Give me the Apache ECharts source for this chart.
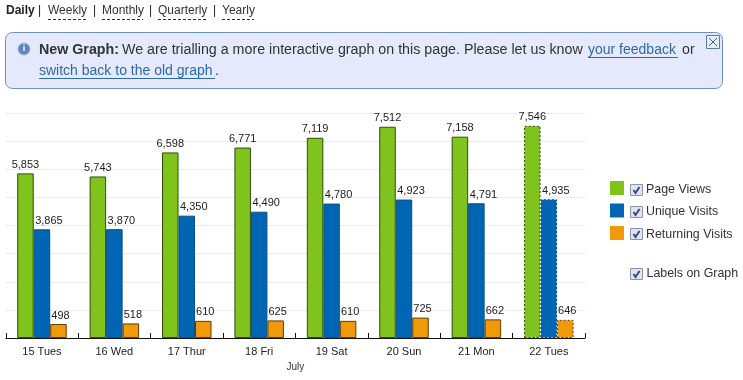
<!DOCTYPE html>
<html><head><meta charset="utf-8">
<style>html,body{margin:0;padding:0;background:#fff}#c{width:743px;height:380px}</style>
<script src="https://cdn.jsdelivr.net/npm/echarts@6/dist/echarts.min.js"></script>
</head><body><div id="c"></div>
<script>
const categories = ['15 Tues','16 Wed','17 Thur','18 Fri','19 Sat','20 Sun','21 Mon','22 Tues'];
const pageViews = [5853,5743,6598,6771,7119,7512,7158,7546];
const uniqueVisits = [3865,3870,4350,4490,4780,4923,4791,4935];
const returningVisits = [498,518,610,625,610,725,662,646];
const FONT = '"Liberation Sans", Arial, sans-serif';
const chart = echarts.init(document.getElementById('c'));
function mk(name, data, color, border, off){
  return {
    name, type:'bar', barWidth:16.5, barGap:'0%', barCategoryGap:'0%',
    data: data.map((v,i)=> i===data.length-1
      ? {value:v, itemStyle:{borderType:[2,2]}} : v),
    itemStyle:{color, borderColor:border, borderWidth:1},
    label:{show:true, position:'top', distance:3, offset:[off,0], color:'#222',
      fontFamily:FONT, fontSize:11, formatter:p=>p.value.toLocaleString('en-US')},
    emphasis:{disabled:true}, animation:false
  };
}
function t(x,y,text,o={}){return {type:'text',x,y,silent:true,style:Object.assign({text,fill:'#333',font:'12px '+FONT,textVerticalAlign:'middle'},o)};}
function line(x1,y1,x2,y2,stroke,dash){return {type:'line',silent:true,shape:{x1,y1,x2,y2},style:{stroke,lineWidth:1,lineDash:dash||null}};}
function checkbox(x,y){return {type:'group',x,y,silent:true,children:[
  {type:'rect',shape:{x:.5,y:.5,width:12,height:11},style:{fill:'#dfe4f0',stroke:'#8a94ad'}},
  {type:'polyline',shape:{points:[[3.5,6],[5.5,9],[9.5,3]]},style:{stroke:'#39497a',fill:null,lineWidth:2}}
]};}
const banner='14.25px '+FONT, link='#2f6aa8';
chart.setOption({
  animation:false,
  grid:{left:5.75,right:158,top:113,bottom:42,containLabel:false},
  legend:{show:true,left:610,top:181,padding:0,orient:'vertical',itemWidth:14,itemHeight:14,itemGap:8,
    icon:'rect',selectedMode:false,
    formatter:'{a|{name}}',
    textStyle:{rich:{a:{fontFamily:FONT,fontSize:12.4,color:'#333',padding:[3,0,0,17]}}},
    itemStyle:{borderWidth:0}},
  xAxis:{type:'category',data:categories,
    axisLine:{lineStyle:{color:'#111',width:1}},
    axisTick:{show:true,inside:true,length:5,lineStyle:{color:'#111'}},
    axisLabel:{color:'#222',fontFamily:FONT,fontSize:11,margin:8},
    name:'July',nameLocation:'middle',nameGap:24,
    nameTextStyle:{color:'#333',fontFamily:FONT,fontSize:10}},
  yAxis:{type:'value',min:0,max:8000,interval:1000,
    axisLine:{show:false},axisTick:{show:false},axisLabel:{show:false},
    splitLine:{lineStyle:{color:'#ebebeb'}}},
  series:[mk('Page Views',pageViews,'#7fc31c','#2d4d0a',0),
          mk('Unique Visits',uniqueVisits,'#0066b3','#0b4f84',7),
          mk('Returning Visits',returningVisits,'#f09a0a','#5e3d05',2)],
  graphic:[
    t(6,11,'Daily',{font:'bold 12px '+FONT,fill:'#222'}),
    t(38,11,'|',{fill:'#222'}),
    t(48,11,'Weekly'),line(48,19.5,87,19.5,'#333',[3,2]),
    t(93,11,'|',{fill:'#222'}),
    t(102,11,'Monthly'),line(102,19.5,143,19.5,'#333',[3,2]),
    t(149,11,'|',{fill:'#222'}),
    t(158,11,'Quarterly'),line(158,19.5,207,19.5,'#333',[3,2]),
    t(213,11,'|',{fill:'#222'}),
    t(222,11,'Yearly'),line(222,19.5,254,19.5,'#333',[3,2]),
    {type:'rect',silent:true,shape:{x:5.5,y:32.5,width:717,height:56,r:7},style:{fill:'#e4e9fb',stroke:'#6e90bd'}},
    {type:'circle',silent:true,shape:{cx:24,cy:49,r:6},style:{fill:'#5d86c0',stroke:'#9fb7d8'}},
    t(24,49,'i',{font:'bold 9px '+FONT,fill:'#fff',textAlign:'center'}),
    t(39,50,'New Graph:',{font:'bold 14.25px '+FONT,fill:'#333'}),
    t(122,50,'We are trialling a more interactive graph on this page. Please let us know',{font:banner,fill:'#333'}),
    t(588,50,'your feedback',{font:'14px '+FONT,fill:link}),line(588,57.5,678,57.5,link),
    t(682,50,'or',{font:banner,fill:'#333'}),
    t(39,71,'switch back to the old graph',{font:'14px '+FONT,fill:link}),line(39,78.5,215,78.5,link),
    t(215,71,'.',{font:banner,fill:'#333'}),
    {type:'rect',silent:true,shape:{x:706.5,y:35.5,width:13,height:13},style:{fill:'#e8eef8',stroke:'#5c7ba6'}},
    line(709,38,717,46,'#3f5f8c'),line(717,38,709,46,'#3f5f8c'),
    checkbox(630,184),checkbox(630,206),checkbox(630,228),checkbox(630,268),
    t(646.5,274,'Labels on Graph',{fill:'#333',font:'12.4px '+FONT})
  ]
});
</script></body></html>
